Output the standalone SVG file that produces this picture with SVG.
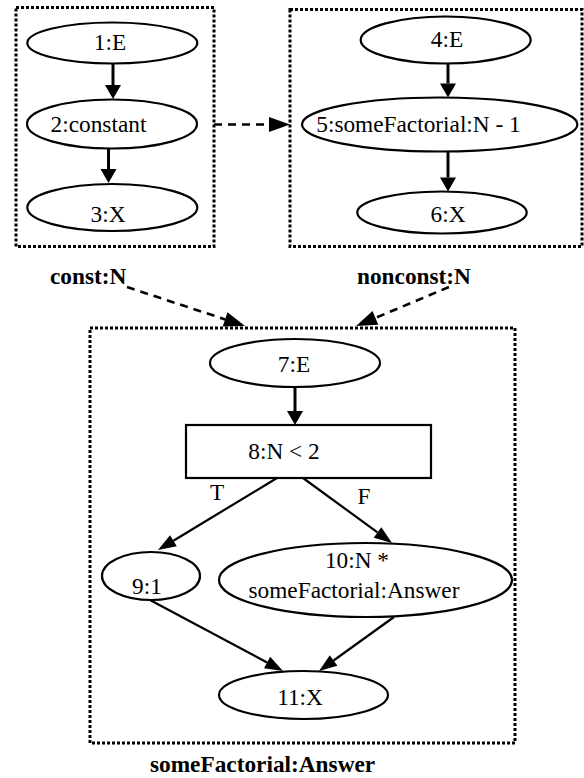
<svg xmlns="http://www.w3.org/2000/svg" width="584" height="778" viewBox="0 0 584 778">
<style>
  .box { fill: none; stroke: #000; stroke-width: 3; stroke-dasharray: 3 2; }
  .node { fill: #fff; stroke: #000; stroke-width: 2.2; }
  .t { font-family: 'Liberation Serif', 'DejaVu Serif', serif; font-size: 23.3px; fill: #000; text-anchor: middle; }
  .lbl { font-family: 'Liberation Serif', 'DejaVu Serif', serif; font-size: 23.3px; font-weight: bold; fill: #000; }
  .ev { stroke: #000; stroke-width: 3; fill: none; }
  .et { stroke: #000; stroke-width: 2.2; fill: none; }
  .ed { stroke: #000; stroke-width: 2.6; fill: none; stroke-dasharray: 8 6; }
</style>
<defs>
  <marker id="arrV" markerUnits="userSpaceOnUse" markerWidth="16" markerHeight="18" refX="0" refY="8" orient="auto" viewBox="0 0 16 16" overflow="visible">
    <path d="M0,0 L14,8 L0,16 z" fill="#000"/>
  </marker>
  <marker id="arrT" markerUnits="userSpaceOnUse" markerWidth="20" markerHeight="14" refX="0" refY="6.5" orient="auto" viewBox="0 0 20 13" overflow="visible">
    <path d="M0,0 L18,6.5 L0,13 z" fill="#000"/>
  </marker>
  <marker id="arrD" markerUnits="userSpaceOnUse" markerWidth="22" markerHeight="16" refX="0" refY="7.5" orient="auto" viewBox="0 0 22 15" overflow="visible">
    <path d="M0,0 L21,7.5 L0,15 z" fill="#000"/>
  </marker>
</defs>

<g id="clusters">
  <rect id="cluster-const" class="box" x="16" y="7.5" width="198" height="239"/>
  <rect id="cluster-nonconst" class="box" x="290" y="9.5" width="292" height="237"/>
  <rect id="cluster-someFactorial" class="box" x="90" y="328" width="425" height="415"/>
</g>

<g id="connectors">
  <line class="ev" x1="113" y1="63" x2="113" y2="85" marker-end="url(#arrV)"/>
  <line class="ev" x1="108.5" y1="148" x2="108.5" y2="169" marker-end="url(#arrV)"/>
  <line class="ev" x1="448" y1="63" x2="448" y2="83.5" marker-end="url(#arrV)"/>
  <line class="ev" x1="448" y1="152" x2="448" y2="177.5" marker-end="url(#arrV)"/>
  <line class="ev" x1="295" y1="387" x2="295" y2="411" marker-end="url(#arrV)"/>
  <line class="ed" x1="214" y1="124.5" x2="269" y2="124.5" marker-end="url(#arrD)"/>
  <line class="ed" x1="127" y1="287" x2="225.1" y2="319.4" marker-end="url(#arrD)"/>
  <line class="ed" x1="449" y1="287" x2="375.4" y2="317.9" marker-end="url(#arrD)"/>
  <line class="et" x1="277" y1="478" x2="173.4" y2="540.7" marker-end="url(#arrT)"/>
  <line class="et" x1="303" y1="478" x2="377.5" y2="532.4" marker-end="url(#arrT)"/>
  <line class="et" x1="150" y1="600" x2="267.1" y2="662.5" marker-end="url(#arrT)"/>
  <line class="et" x1="394" y1="617" x2="333.6" y2="660.5" marker-end="url(#arrT)"/>
  <text class="t" font-family="Liberation Serif, serif" x="217" y="500">T</text>
  <text class="t" font-family="Liberation Serif, serif" x="364" y="504">F</text>
</g>

<g id="n1"><ellipse class="node" cx="112.3" cy="43" rx="85" ry="20.5"/><text class="t" x="110" y="49.5">1:E</text></g>
<g id="n2"><ellipse class="node" cx="112" cy="124" rx="85" ry="24.5"/><text class="t" x="98.5" y="132">2:constant</text></g>
<g id="n3"><ellipse class="node" cx="112.3" cy="207.5" rx="85" ry="23.5"/><text class="t" x="108" y="222">3:X</text></g>
<g id="n4"><ellipse class="node" cx="445.7" cy="40" rx="85" ry="23.5"/><text class="t" x="447" y="47">4:E</text></g>
<g id="n5"><ellipse class="node" cx="439.7" cy="124.5" rx="137.7" ry="27"/><text class="t" x="418.5" y="132">5:someFactorial:N - 1</text></g>
<g id="n6"><ellipse class="node" cx="442" cy="212.5" rx="84.7" ry="21"/><text class="t" x="448" y="222">6:X</text></g>
<g id="n7"><ellipse class="node" cx="295" cy="363" rx="85" ry="24"/><text class="t" x="294" y="372">7:E</text></g>
<g id="n8"><rect class="node" x="186" y="425" width="245" height="53" stroke-width="2.6"/><text class="t" x="284" y="459">8:N &lt; 2</text></g>
<g id="n9"><ellipse class="node" cx="151" cy="576" rx="49" ry="24"/><text class="t" x="147" y="594">9:1</text></g>
<g id="n10"><ellipse class="node" cx="365.5" cy="580" rx="146.5" ry="37"/><text class="t" x="357" y="568">10:N *</text><text class="t" x="354" y="598">someFactorial:Answer</text></g>
<g id="n11"><ellipse class="node" cx="303.5" cy="695" rx="84.5" ry="24"/><text class="t" x="300" y="705">11:X</text></g>

<g id="labels">
  <text class="lbl" x="50" y="283.5">const:N</text>
  <text class="lbl" x="357" y="283.5">nonconst:N</text>
  <text class="lbl" x="150" y="772">someFactorial:Answer</text>
</g>
</svg>
